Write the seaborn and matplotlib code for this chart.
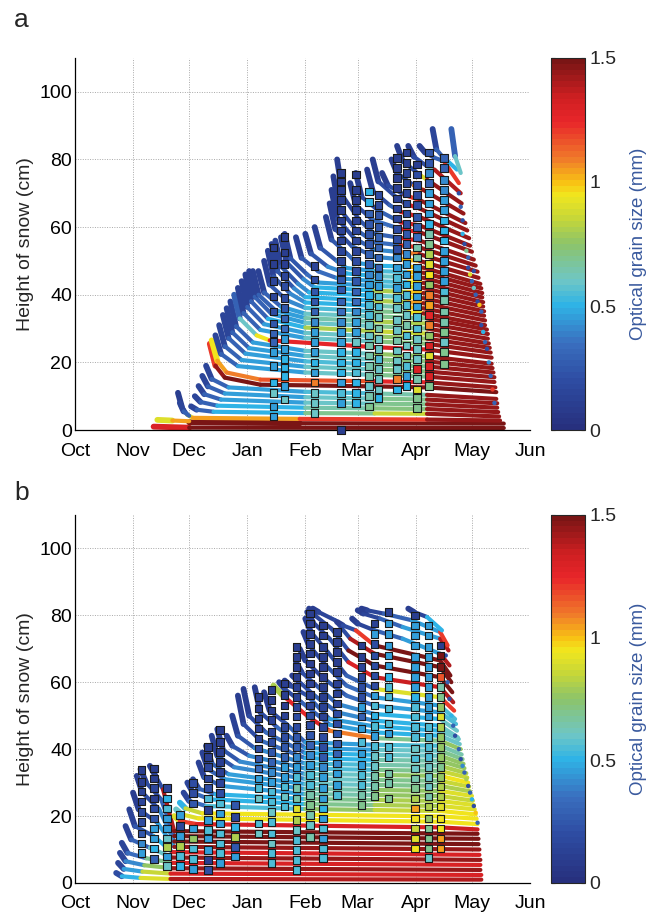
import numpy as np
import pandas as pd
import matplotlib
matplotlib.use("Agg")
import matplotlib.pyplot as plt
import matplotlib.cm as mcm
from matplotlib.collections import LineCollection
from matplotlib.colors import Normalize, LinearSegmentedColormap
import seaborn as sns

# x axis: days since 1 October
month_days = [0, 31, 61, 92, 123, 151, 182, 212, 243]
month_labels = ["Oct", "Nov", "Dec", "Jan", "Feb", "Mar", "Apr", "May", "Jun"]
grain_ticks = [0, 0.5, 1, 1.5]

# ---------------- panel a : modelled layers (day, height cm, grain size per segment)
a_layer_days = [
    [42, 61, 229], [61, 120, 229], [44, 52, 61],
    [55, 57, 60, 63, 120, 188, 227], [56, 58, 61],
    [62, 65, 74, 123, 160, 188, 226.5], [64, 67, 76, 123, 160, 188, 226],
    [66, 69, 78, 123, 160, 188, 225.5], [68, 71, 80, 123, 160, 188, 225.5],
    [70, 73, 82, 123, 160, 188, 225], [72, 75, 80, 99, 160, 188, 225],
    [73, 76, 81, 99, 160, 188, 224.5], [75, 78, 87, 123, 160, 188, 224],
    [77, 80, 89, 123, 160, 188, 224], [79, 82, 91, 123, 160, 188, 223.5],
    [81, 84, 93, 123, 160, 188, 223], [83, 86, 95, 123, 160, 188, 222.5],
    [85, 88, 97, 104, 160, 188, 222.5], [87, 90, 99, 123, 160, 188, 222],
    [89, 92, 101, 123, 160, 188, 221.5], [91, 94, 103, 123, 160, 188, 221],
    [93, 96, 105, 123, 160, 188, 220.5], [95, 98, 107, 123, 160, 188, 220.5],
    [98, 101, 110, 123, 160, 188, 220],
    [101, 104, 113, 123, 160, 178, 186, 219], [103, 106, 115, 123, 160, 178, 186, 219],
    [105, 108, 117, 123, 160, 178, 186, 218.5], [107, 110, 119, 125, 160, 178, 186, 218.5],
    [110, 113, 122, 128, 160, 178, 186, 218], [112, 115, 124, 130, 160, 178, 186, 218],
    [118, 121, 130, 140, 160, 178, 186, 217.5], [123, 126, 135, 145, 160, 178, 186, 217.5],
    [128, 131, 140, 145, 160, 178, 186, 217], [134, 137, 146, 150, 160, 178, 186, 216.5],
    [136, 139, 148, 160, 174, 184, 215.5], [137, 140, 149, 160, 174, 184, 215],
    [138, 141, 150, 160, 174, 184, 214], [140, 143, 152, 160, 174, 184, 213],
    [147, 150, 159, 174, 184, 212], [150, 153, 162, 174, 184, 211],
    [156, 159, 168, 174, 184, 210.5], [159, 162, 171, 176, 184, 209.5],
    [164, 167, 176, 184, 208.5], [169, 172, 181, 186, 207.5],
    [172, 175, 184, 188, 206.5], [178, 181, 188, 192, 206],
    [184, 187, 192, 197, 205], [191, 193, 196, 204], [201, 203, 206],
]
a_layer_cm = [
    [1.0, 0.7, 0.6], [2.3, 2.0, 1.9], [3.0, 2.8, 2.6],
    [11, 7, 4.5, 3.6, 3.3, 3.1, 2.8], [8, 5.5, 4.2],
    [7, 6.0, 5.4, 5.0, 4.9, 4.8, 4.0], [10, 8.3, 7.2, 6.6, 6.4, 6.2, 5.3],
    [13, 10.6, 9.0, 8.1, 7.8, 7.6, 6.6], [16, 12.9, 10.8, 9.7, 9.3, 9.0, 7.9],
    [19, 15.1, 12.6, 11.3, 10.8, 10.4, 9.2], [25.5, 19, 15.5, 13.4, 12.9, 12.6, 11.2],
    [26.5, 20.5, 17, 14.9, 14.4, 14.1, 12.6], [28, 22.5, 18.9, 17.0, 16.3, 15.8, 14.2],
    [31, 24.8, 20.7, 18.7, 17.9, 17.3, 15.6], [34, 27.2, 22.6, 20.3, 19.4, 18.8, 17.0],
    [36, 28.9, 24.2, 21.9, 20.9, 20.3, 18.3], [38, 30.7, 25.9, 23.4, 22.5, 21.8, 19.6],
    [40, 33, 28, 26.5, 24.5, 23.8, 21.4], [42, 34.6, 29.6, 27.2, 26.2, 25.5, 22.9],
    [44, 36.4, 31.3, 28.7, 27.7, 27, 24.3], [46, 38.1, 32.9, 30.3, 29.2, 28.5, 25.6],
    [47, 39.4, 34.3, 31.7, 30.7, 30, 27], [47, 40, 35.4, 33.1, 32.1, 31.5, 28.4],
    [47, 40.7, 36.5, 34.4, 33.6, 33, 29.7],
    [50, 43, 38.4, 36.1, 35.1, 34.8, 34.5, 31], [53, 45.4, 40.3, 37.7, 36.7, 36.3, 36, 32.4],
    [55, 47.1, 41.9, 39.3, 38.2, 37.8, 37.5, 33.8], [56, 48.4, 43.3, 40.7, 39.7, 39.3, 39, 35.1],
    [57, 49.6, 44.6, 42.2, 41.2, 40.8, 40.5, 36.5], [58, 50.8, 46, 43.6, 42.6, 42.3, 42, 37.8],
    [57, 50.9, 46.9, 44.9, 44, 43.7, 43.5, 39.2], [58, 52.2, 48.3, 46.3, 45.5, 45.2, 45, 40.5],
    [60, 53.9, 49.9, 47.9, 47, 46.7, 46.5, 41.9], [63, 56.3, 51.8, 49.5, 48.6, 48.3, 48, 43.2],
    [67, 59.4, 54.3, 51.2, 50.5, 50, 45], [71, 62.5, 56.8, 53.3, 52.6, 52, 46.8],
    [75, 65.6, 59.3, 55.5, 54.6, 54, 48.6], [80, 69.2, 62, 58, 56.8, 56, 50.4],
    [73, 66.5, 62.1, 59.4, 58.5, 52.7], [76, 69, 64.9, 61.4, 60.5, 54.5],
    [77, 70.7, 66.5, 64.5, 63, 56.7], [80, 73.5, 69.1, 67, 65.5, 59],
    [76, 72.4, 69.5, 68, 61.2], [80, 76, 72.3, 71, 64],
    [84, 79.5, 75.5, 74, 67], [84, 80.8, 78, 77, 70],
    [84, 82, 80.5, 79.5, 73], [89, 83, 81, 77], [89, 81, 76],
]
a_layer_grain = [
    [1.3, 1.5], [1.5, 1.5], [0.9, 1.05],
    [0.1, 0.2, 0.9, 1.05, 1.2, 1.45], [0.15, 0.3],
    [0.15, 0.3, 0.5, 0.7, 0.85, 1.45], [0.15, 0.3, 0.5, 0.65, 0.72, 1.45],
    [0.15, 0.3, 0.45, 0.6, 0.7, 1.45], [0.15, 0.3, 0.45, 0.6, 0.7, 1.45],
    [0.15, 0.3, 0.45, 0.55, 0.65, 1.45], [1.2, 1.45, 1.5, 1.5, 1.5, 1.5],
    [0.95, 1.05, 1.1, 1.15, 1.25, 1.45], [0.15, 0.3, 0.45, 0.6, 0.7, 1.45],
    [0.15, 0.3, 0.45, 0.6, 0.72, 1.45], [0.15, 0.3, 0.45, 0.55, 0.7, 1.45],
    [0.15, 0.3, 0.45, 0.6, 0.72, 1.45], [0.15, 0.3, 0.45, 0.6, 0.75, 1.45],
    [0.3, 0.6, 0.95, 1.25, 1.3, 1.45], [0.12, 0.3, 0.45, 0.6, 0.72, 1.45],
    [0.12, 0.3, 0.45, 0.6, 0.75, 1.45], [0.12, 0.3, 0.5, 0.8, 0.85, 1.45],
    [0.12, 0.3, 0.45, 0.6, 0.7, 1.45], [0.12, 0.3, 0.45, 0.65, 0.8, 1.45],
    [0.12, 0.3, 0.45, 0.6, 0.7, 1.45],
    [0.12, 0.25, 0.4, 0.55, 0.7, 0.95, 1.45], [0.12, 0.25, 0.4, 0.5, 0.65, 1.0, 1.45],
    [0.12, 0.25, 0.4, 0.5, 0.8, 1.05, 1.45], [0.12, 0.25, 0.4, 0.5, 0.6, 0.95, 1.45],
    [0.12, 0.25, 0.4, 0.5, 0.8, 1.0, 1.45], [0.12, 0.25, 0.35, 0.45, 0.55, 0.9, 1.45],
    [0.12, 0.25, 0.35, 0.45, 0.55, 0.95, 1.45], [0.12, 0.25, 0.4, 0.5, 0.6, 1.0, 1.45],
    [0.12, 0.25, 0.4, 0.45, 0.55, 1.0, 1.45], [0.12, 0.25, 0.35, 0.45, 0.5, 1.0, 1.45],
    [0.1, 0.2, 0.3, 0.4, 1.0, 1.45], [0.1, 0.2, 0.3, 0.4, 1.1, 1.45],
    [0.1, 0.2, 0.3, 0.35, 1.2, 1.45], [0.1, 0.15, 0.25, 0.3, 1.25, 1.45],
    [0.1, 0.2, 0.35, 1.25, 1.45], [0.1, 0.2, 0.3, 1.3, 1.45],
    [0.1, 0.2, 0.3, 1.3, 1.45], [0.1, 0.2, 0.3, 1.3, 1.45],
    [0.1, 0.2, 1.2, 1.45], [0.1, 0.2, 1.1, 1.45],
    [0.1, 0.2, 0.9, 1.45], [0.1, 0.2, 0.6, 1.4],
    [0.1, 0.15, 0.3, 1.2], [0.15, 0.3, 0.5], [0.3, 0.6],
]
# fresh snow grains scattered along the melt front
a_dot_days = [205, 206, 207, 207, 208, 209, 210, 210, 211, 212, 213, 213,
              214, 215, 216, 217, 217, 218, 219, 220, 221, 222, 223, 224]
a_dot_cm = [70, 66, 62, 58, 55, 53, 51, 48, 46, 44, 47, 42,
            40, 38, 37, 35, 31, 29, 26, 24, 20, 16, 12, 8]
a_dot_grain = [0.2, 0.3, 0.2, 0.5, 0.2, 0.7, 0.3, 0.2, 0.9, 0.3, 0.2, 0.6,
               0.3, 0.2, 1.0, 0.3, 0.2, 0.5, 0.3, 0.2, 0.4, 0.3, 1.2, 0.3]

# panel a : measured profiles (squares)
a_obs_day = [106, 112, 128, 142, 150, 157, 162, 172, 177, 182.5, 189, 197]
a_obs_cm = [
    [54, 49, 44, 39.5, 35, 31.5, 28.5, 26, 23, 19, 14, 11, 7, 4],
    [57, 52.5, 49, 45.5, 42.5, 39, 36, 33, 30, 27, 24, 21, 18.5, 16, 13, 9],
    [48.5, 44.5, 41, 38, 35, 32, 29, 26, 23, 20, 17, 14, 11, 8, 5],
    [76, 73.5, 71, 68, 65, 62, 59, 56, 53, 50, 47, 44.5, 41.5, 38, 35, 32, 29, 26, 23, 20, 17, 14, 11, 8, 0],
    [75.5, 71, 68, 65, 62, 59, 56, 53, 50, 47, 44, 41, 38, 35, 32, 29, 26, 23, 20, 17, 14, 11, 8],
    [70.5, 67.5, 64, 61, 58, 55, 52, 49, 46, 43, 40, 37, 34, 31, 28, 25, 22, 19, 16, 13, 10, 7],
    [69.5, 66.5, 63.5, 60, 57, 54, 51, 48, 45.5, 42.5, 39.5, 36.5, 33.5, 30, 27, 24, 21, 18, 15, 12, 9.5],
    [80.5, 77.5, 74.5, 71.5, 68.5, 65.5, 62.5, 59.5, 56.5, 53.5, 51, 48, 45, 42, 39, 36, 32.5, 29.5, 26.5, 23.5, 20.5, 18, 15, 12],
    [82, 79, 76, 73, 70, 67, 64, 61, 58, 55, 52, 49, 46, 43, 40, 37, 34, 31, 28, 25, 22, 19, 16, 13],
    [78.5, 75.5, 72.5, 69.5, 66.5, 63, 60, 57, 54, 51, 48, 45.5, 42.5, 39.5, 36.5, 33.5, 30, 27, 24, 21, 18, 15, 12, 9.5, 6.5],
    [82, 79, 76, 73, 70, 67, 64, 61, 58, 55, 52, 49, 46, 43, 40, 37, 34, 31, 28, 25, 22, 19, 16, 13],
    [80.5, 77.5, 74, 71, 68, 65, 62, 59, 56, 53, 50, 47, 44, 41, 38.5, 35, 32, 29, 26, 23, 19.5],
]
a_obs_grain = [
    [0.1, 0.1, 0.15, 0.15, 0.2, 0.25, 0.3, 0.3, 0.45, 0.45, 0.5, 0.6, 0.45, 0.45],
    [0.1, 0.1, 0.1, 0.15, 0.2, 0.2, 0.25, 0.3, 0.35, 0.45, 0.45, 0.5, 0.5, 0.5, 0.45, 0.6],
    [0.15, 0.2, 0.25, 0.25, 0.3, 0.4, 0.45, 0.45, 0.45, 0.5, 0.45, 1.1, 0.6, 0.6, 0.6],
    [0.1, 0.1, 0.1, 0.1, 0.1, 0.1, 0.12, 0.12, 0.15, 0.15, 0.2, 0.25, 0.25, 0.3, 0.35,
     0.4, 0.45, 0.45, 0.5, 0.5, 0.5, 0.45, 0.55, 0.45, 0.1],
    [0.1, 0.1, 0.1, 0.12, 0.12, 0.15, 0.15, 0.15, 0.2, 0.2, 0.25, 0.3, 0.35, 0.4, 0.45,
     0.45, 0.6, 0.5, 0.5, 0.55, 0.5, 0.5, 0.5],
    [0.5, 0.5, 0.3, 0.25, 0.25, 0.25, 0.3, 0.3, 0.4, 0.45, 0.5, 0.55, 0.55, 0.6, 0.6,
     0.65, 0.65, 0.65, 0.65, 0.6, 0.65, 0.7],
    [0.2, 0.2, 0.25, 0.25, 0.3, 0.3, 0.3, 0.3, 0.4, 0.45, 0.55, 0.55, 0.6, 0.65, 0.6,
     0.6, 0.55, 0.6, 0.6, 0.6, 0.5],
    [0.1, 0.1, 0.1, 0.1, 0.12, 0.15, 0.15, 0.2, 0.2, 0.2, 0.4, 0.45, 0.55, 0.45, 0.55,
     0.6, 0.6, 0.6, 0.65, 0.6, 0.6, 0.6, 1.1, 0.5],
    [0.1, 0.1, 0.12, 0.15, 0.15, 0.2, 0.2, 0.2, 0.25, 0.3, 0.4, 0.45, 0.45, 0.5, 0.55,
     0.55, 0.6, 0.65, 0.55, 0.6, 0.6, 0.55, 0.45, 0.5],
    [0.1, 0.2, 0.2, 0.2, 0.2, 0.25, 0.3, 0.35, 0.65, 0.65, 0.45, 0.45, 0.45, 0.45, 0.45,
     0.55, 0.55, 0.6, 0.6, 0.6, 1.3, 0.65, 0.9, 0.7, 0.7],
    [0.25, 0.25, 0.4, 0.3, 0.45, 0.45, 0.45, 0.5, 0.65, 0.7, 0.8, 0.9, 0.95, 0.75, 1.1,
     1.05, 1.25, 1.1, 0.75, 1.3, 0.9, 1.3, 1.3, 0.7],
    [0.3, 0.3, 0.4, 0.4, 0.45, 0.45, 0.5, 0.5, 0.5, 0.45, 0.45, 0.45, 0.45, 0.55, 0.65,
     0.65, 0.65, 0.7, 0.6, 0.7, 0.7],
]

# ---------------- panel b : modelled layers
b_layer_days = [
    [22, 25, 35, 51, 217], [23, 26, 36, 51, 217], [24, 27, 37, 52, 216.5],
    [25, 28, 38, 52, 216.5], [27, 30, 40, 52, 216.5], [29, 32, 42, 52, 216],
    [31, 34, 44, 53, 216], [33, 36, 45, 53, 215.5], [35, 38, 46, 53, 215.5],
    [40, 43, 47, 53, 215],
    [53, 56, 65, 195, 215], [54, 57, 66, 195, 215], [56, 59, 68, 195, 214.5],
    [58, 61, 70, 123, 160, 195, 214], [60, 63, 72, 123, 160, 195, 213.5],
    [63, 66, 75, 123, 160, 195, 213], [66, 69, 78, 123, 160, 195, 212.5],
    [68, 71, 80, 123, 160, 195, 212], [70, 73, 82, 123, 160, 195, 211],
    [73, 76, 85, 123, 160, 195, 210.5], [76, 79, 88, 123, 160, 195, 210],
    [81, 84, 93, 123, 160, 195, 209.5], [84, 87, 96, 123, 160, 195, 209],
    [87, 90, 99, 123, 160, 195, 208], [90, 93, 102, 123, 160, 195, 207.5],
    [96, 99, 108, 123, 160, 195, 207], [101, 104, 113, 123, 160, 195, 206.5],
    [106, 111, 125, 136, 160, 195, 206], [109, 112, 121, 136, 160, 195, 205.5],
    [112, 115, 124, 136, 160, 195, 205],
    [116, 119, 128, 140, 160, 195, 204.5], [118, 121, 130, 140, 160, 195, 204],
    [120, 123, 132, 145, 160, 195, 203.5], [122, 125, 134, 145, 160, 195, 203],
    [123, 126, 135, 145, 160, 195, 202.5], [124, 127, 136, 146, 160, 195, 202],
    [125, 128, 137, 146, 160, 195, 201.5], [127, 130, 139, 147, 160, 195, 201],
    [140, 143, 150, 160, 195, 200.5],
    [148, 151, 160, 175, 195, 200], [151, 154, 163, 175, 195, 199.5],
    [153, 156, 165, 180, 195, 199], [178, 181, 188, 196],
]
b_layer_cm = [
    [3, 2, 1.5, 1.2, 1.0], [6, 4.2, 3.4, 2.8, 2.4], [9, 6.5, 5.3, 4.4, 3.9],
    [12, 9, 7.4, 6.0, 5.4], [17, 13, 10.5, 7.6, 6.9], [22, 17, 14, 9.2, 8.4],
    [27, 22, 18, 10.8, 10], [32, 27, 22, 12.4, 11.6], [34, 30, 25, 14.0, 13.2],
    [35, 32, 28, 15.5, 14.7],
    [20, 18.5, 17.6, 16.6, 16.0], [22, 20.5, 19.3, 18.3, 17.6], [24, 22.3, 20.8, 19.9, 19.2],
    [27, 24.5, 23, 22.1, 21.8, 21.5, 20.5], [30, 27, 25, 23.6, 23.3, 23, 22],
    [31, 28.2, 26.5, 25.1, 24.8, 24.5, 23.3], [36, 31.6, 29, 26.6, 26.3, 26, 24.6],
    [39, 34, 31, 28.1, 27.8, 27.5, 26], [41, 35.7, 32.5, 29.6, 29.3, 29, 27.4],
    [44, 38, 34.6, 31.1, 30.8, 30.5, 28.8], [46, 39.8, 36.3, 32.6, 32.3, 32, 30],
    [44, 41, 38, 34.2, 33.8, 33.5, 31.5], [50, 44, 40.3, 35.7, 35.3, 35, 32.8],
    [56, 47.5, 42.6, 37.3, 36.8, 36.5, 34.3], [58, 50, 45, 38.8, 38.3, 38, 35.6],
    [58.5, 51, 46.5, 40.3, 39.8, 39.5, 37], [57, 51.5, 47.5, 42, 41.3, 41, 38.4],
    [59, 56, 49.5, 45.5, 43.3, 42.5, 40], [60, 58, 54, 47.3, 45, 44, 41.5],
    [60.5, 59, 56, 49, 46.8, 45.5, 43],
    [62, 60.5, 56, 51, 48.5, 47, 43.5], [66, 63, 58.5, 53.5, 50.5, 49, 45.5],
    [70, 66.5, 61.5, 56, 53, 51, 47.5], [75, 71, 65, 59, 55.5, 53, 49],
    [79, 75, 69, 62, 58, 55.5, 51.5], [81, 78, 73, 66, 61.5, 58.5, 54],
    [82, 80, 76, 69.5, 65, 61.5, 57], [82, 81, 78.5, 73, 68.5, 64.5, 60],
    [78, 77, 75.5, 71, 66.5, 62],
    [79, 77.5, 75.5, 73, 68.5, 65], [81.5, 80.5, 79, 76.5, 73, 69.5],
    [82, 81.5, 80.5, 78.5, 75, 71], [82, 81, 79.5, 75.5],
]
b_layer_grain = [
    [0.2, 0.5, 0.9, 1.4], [0.15, 0.45, 0.85, 1.3], [0.15, 0.4, 0.75, 1.45],
    [0.15, 0.35, 0.7, 1.3], [0.12, 0.3, 0.6, 1.45], [0.12, 0.25, 0.5, 1.3],
    [0.1, 0.2, 0.45, 1.45], [0.1, 0.2, 0.4, 1.5], [0.1, 0.2, 0.3, 1.5],
    [0.1, 0.2, 1.4, 1.5],
    [0.9, 1.2, 1.3, 1.35], [0.6, 0.9, 0.95, 0.95], [0.5, 0.85, 0.95, 0.95],
    [0.15, 0.35, 0.55, 0.75, 0.85, 0.95], [0.15, 0.35, 0.5, 0.7, 0.8, 0.9],
    [0.15, 0.3, 0.5, 0.7, 0.8, 0.9], [0.12, 0.3, 0.45, 0.65, 0.75, 0.85],
    [0.12, 0.3, 0.45, 0.65, 0.75, 0.9], [0.12, 0.3, 0.45, 0.6, 0.7, 0.8],
    [0.12, 0.25, 0.4, 0.6, 0.7, 0.85], [0.12, 0.25, 0.4, 0.6, 0.75, 0.95],
    [0.12, 0.25, 0.4, 0.55, 0.7, 0.85], [0.12, 0.25, 0.4, 0.55, 0.65, 0.8],
    [0.1, 0.2, 0.35, 0.5, 0.65, 0.75], [0.1, 0.2, 0.35, 0.5, 0.6, 0.75],
    [0.1, 0.2, 0.35, 0.45, 0.6, 0.7], [0.1, 0.2, 0.3, 0.45, 0.55, 0.65],
    [0.8, 1.25, 1.3, 1.1, 0.7, 0.75], [0.1, 0.2, 0.3, 0.45, 0.5, 0.6],
    [0.1, 0.2, 0.3, 0.45, 0.5, 0.6],
    [0.1, 0.2, 0.3, 0.4, 0.5, 0.6], [0.1, 0.2, 0.3, 0.4, 0.5, 0.6],
    [0.1, 0.15, 0.25, 0.35, 0.45, 0.55], [0.1, 0.15, 0.25, 0.35, 0.45, 0.55],
    [0.1, 0.15, 0.2, 0.3, 0.9, 1.2], [0.1, 0.15, 0.2, 1.3, 1.35, 1.4],
    [0.1, 0.15, 0.2, 1.5, 1.5, 1.5], [0.1, 0.15, 0.2, 1.4, 1.5, 1.5],
    [0.1, 0.2, 1.2, 1.5, 1.5],
    [0.1, 0.15, 0.3, 0.45, 1.4], [0.1, 0.15, 0.3, 0.45, 1.4],
    [0.1, 0.15, 0.3, 0.45, 1.2], [0.1, 0.15, 0.5],
]
b_dot_days = [198, 199, 200, 201, 202, 203, 204, 205, 206, 207, 208, 209,
              210, 211, 212, 213, 214, 215]
b_dot_cm = [68, 60, 55, 50, 47, 44, 42, 40, 37, 35, 33, 31, 29, 27, 25, 23, 21, 18]
b_dot_grain = [0.2, 0.3, 0.2, 0.5, 0.3, 0.2, 0.6, 0.3, 0.2, 0.4, 0.3, 0.8,
               0.2, 0.3, 0.5, 0.2, 1.0, 0.3]

# panel b : measured profiles
b_obs_day = [35.6, 42.3, 49, 56, 63, 71, 77.5, 85.5, 98, 105, 112, 118.4, 125.5,
             132.6, 139.8, 153, 160, 167.4, 181.6, 188.7, 195.3]
b_obs_cm = [
    [33.7, 30.2, 27.3, 24.3, 21.3, 18.3, 14.8, 11.8, 8.9],
    [34.2, 31.2, 28.3, 25.3, 22.3, 19.3, 16.3, 13.3, 10.3, 7.1],
    [28.3, 25.3, 22.3, 19.3, 16.3, 13.3, 10.8, 7.9, 5],
    [20.3, 17, 14, 11, 8.1, 5.1],
    [29.8, 26.8, 23.8, 16.3, 13.3, 10.3, 7.1, 4.1],
    [40.7, 37.7, 34.7, 31.2, 28.3, 25.3, 21.8, 18.8, 15.8, 13.3, 9.9, 6.9, 3.9],
    [45.7, 42.2, 39.2, 36.2, 33.2, 29.8, 26.8, 23.8, 20.8, 17.8, 14.8, 11.8, 8.9, 5.9],
    [23.3, 19.8, 16.8, 13.8, 10.8, 7.9],
    [55.6, 52.1, 49.2, 46.2, 43.2, 40.2, 37.2, 34.2, 31.2, 28.3, 25.3, 17.8, 14.8],
    [57.6, 54.6, 51.6, 48.7, 45.2, 42.2, 39.2, 36.2, 33.2, 30.2, 27.3, 24.3, 21.3, 18.3,
     14.8, 11.8, 8.9, 5.9],
    [59.6, 56.1, 53.1, 50.1, 46.7, 43.7, 40.7, 37.7, 34.7, 31.7, 28.8, 25.8, 22.8],
    [70.5, 67.6, 64.6, 61.6, 58.6, 55.6, 52.6, 49.7, 46.7, 43.7, 40.7, 37.7, 34.7, 31.7,
     28.3, 25.3, 22.3, 18.8, 15.8, 12.8, 9.9, 6.9, 3.9],
    [80.5, 77.5, 74.5, 71.5, 68.6, 65.6, 62.6, 59.6, 56.1, 53.1, 50.1, 47.2, 44.2, 41.2,
     38.2, 35.2, 32.2, 29.3, 26.3, 23.3, 20.3, 17.3, 13.8],
    [77, 74, 70.5, 67.6, 64.6, 61.6, 58.6, 55.6, 52.6, 49.7, 46.7, 43.7, 40.7, 37.7,
     34.7, 31.7, 28.3, 25.3, 22.3, 19.3, 16.3, 13.3, 10.3, 7.4],
    [75, 72, 69, 66, 63, 59.6, 56.6, 53.6, 50.6, 47.7, 44.7, 41.7, 38.7, 35.7, 32.7, 29.3, 26.3],
    [71, 67.6, 64.6, 61.6, 58.6, 55.6, 52.6, 49.7, 46.2, 42.2, 38.7, 35.2, 32.2, 29.3, 26.3, 23.3],
    [77.5, 74.5, 71.5, 68, 65, 62, 59, 56, 53, 50, 47, 44, 41, 38, 35, 32, 29, 26],
    [81, 77.5, 74.5, 71, 68, 65, 61.6, 58.6, 55.7, 52.1, 47.7, 44.7, 40.7, 37.7, 32.7, 29.9, 25.3],
    [80, 77, 74, 71, 67.6, 64.6, 61.6, 58.6, 55.6, 52.6, 49.7, 46.7, 43.7, 40.2, 37.2,
     34.2, 31.2, 28.3, 25.3, 22.3, 19.3, 16.3, 13.3, 10.3],
    [77, 74, 70.5, 67.6, 64.6, 61.6, 58.6, 55.6, 52.6, 49.7, 46.7, 43.7, 40.7, 37.7,
     34.7, 31.7, 28.8, 25.8, 22.8, 19.3, 16.3, 13.3, 10.3, 7.4],
    [71, 68, 64.6, 61.6, 58.6, 55.6, 52.6, 49.7, 46.7, 43.7, 40.7, 37.7, 34.7, 31.7,
     28.8, 25.8, 22.8, 19.3, 16.3, 13.3, 10.3],
]
b_obs_grain = [
    [0.1, 0.1, 0.15, 0.15, 0.2, 0.2, 0.25, 0.4, 0.45],
    [0.1, 0.1, 0.15, 0.1, 0.2, 0.25, 0.45, 0.45, 0.5, 0.3],
    [0.15, 0.5, 0.55, 0.45, 0.45, 0.6, 0.8, 0.45, 0.6],
    [0.45, 0.15, 0.45, 0.8, 0.55, 0.5],
    [0.2, 0.2, 0.25, 0.45, 0.75, 0.55, 0.55, 0.45],
    [0.1, 0.1, 0.15, 0.15, 0.2, 0.55, 0.1, 0.45, 0.55, 0.45, 0.45, 0.1, 0.2],
    [0.1, 0.1, 0.1, 0.1, 0.1, 0.15, 0.2, 0.55, 0.45, 0.45, 0.55, 0.55, 0.55, 0.45],
    [0.25, 0.15, 0.5, 0.8, 0.25, 0.45],
    [0.1, 0.1, 0.1, 0.12, 0.15, 0.2, 0.25, 0.35, 0.45, 0.55, 0.6, 0.55, 0.6],
    [0.1, 0.1, 0.1, 0.12, 0.15, 0.2, 0.25, 0.3, 0.4, 0.45, 0.55, 0.55, 0.6, 0.55, 0.55,
     0.6, 0.55, 0.55],
    [0.1, 0.1, 0.1, 0.12, 0.15, 0.2, 0.25, 0.3, 0.45, 0.45, 0.55, 0.6, 0.55],
    [0.1, 0.1, 0.1, 0.1, 0.12, 0.12, 0.15, 0.2, 0.2, 0.25, 0.3, 0.4, 0.45, 0.55, 0.65,
     0.65, 0.9, 0.8, 0.6, 0.55, 0.55, 0.55, 0.55],
    [0.1, 0.1, 0.1, 0.1, 0.1, 0.1, 0.1, 0.12, 0.12, 0.15, 0.2, 0.2, 0.25, 0.3, 0.4,
     0.45, 0.55, 0.55, 0.65, 0.7, 0.65, 0.6, 0.65],
    [0.1, 0.1, 0.1, 0.1, 0.1, 0.1, 0.1, 0.1, 0.12, 0.12, 0.15, 0.2, 0.2, 0.25, 0.4,
     0.45, 0.45, 0.45, 0.5, 0.45, 0.55, 0.45, 0.55, 0.55],
    [0.1, 0.1, 0.1, 0.1, 0.1, 0.12, 0.12, 0.15, 0.2, 0.2, 0.25, 0.25, 0.3, 0.4, 0.45, 0.45, 0.55],
    [0.1, 0.1, 0.15, 0.15, 0.2, 0.2, 0.45, 0.3, 0.45, 0.55, 0.45, 0.45, 0.55, 0.55, 0.65, 0.7],
    [0.12, 0.45, 0.2, 0.2, 0.2, 0.2, 0.2, 0.45, 0.55, 0.5, 0.55, 0.45, 0.55, 0.6, 0.6,
     0.65, 0.65, 0.7],
    [0.12, 0.45, 0.45, 0.45, 0.45, 0.45, 0.5, 0.55, 0.55, 0.55, 0.55, 0.45, 0.55, 0.55,
     0.65, 0.65, 0.7],
    [0.1, 0.45, 0.45, 0.45, 0.45, 0.45, 0.45, 0.45, 0.5, 0.55, 0.55, 0.55, 0.55, 0.6,
     0.55, 0.6, 0.65, 0.7, 0.8, 1.05, 0.95, 0.85, 0.9, 0.95],
    [0.45, 0.45, 0.45, 0.45, 0.45, 0.45, 0.45, 0.45, 0.45, 0.45, 0.55, 0.55, 0.55, 0.55,
     0.6, 0.6, 0.6, 0.65, 0.8, 0.75, 0.7, 0.7, 0.7, 0.6],
    [0.1, 1.5, 1.5, 1.15, 0.65, 0.7, 0.75, 0.9, 0.8, 0.75, 0.75, 0.75, 0.7, 0.75, 0.8,
     0.8, 0.9, 0.95, 0.95, 1.05, 1.05],
]

sns.set_style("white")
plt.rcParams["font.family"] = ["Liberation Sans", "DejaVu Sans"]

# jet-like scale as printed in the figure (slightly muted), 64 steps
cmap = LinearSegmentedColormap.from_list("printed_jet", [
    (0.0, "#27307e"), (0.13, "#2e4da3"), (0.23, "#3a6fbf"), (0.333, "#2fb3e6"),
    (0.4, "#6ec6c6"), (0.5, "#8cc46a"), (0.567, "#c4d63a"), (0.633, "#f1e61e"),
    (0.667, "#f8c314"), (0.733, "#f07a2a"), (0.833, "#e8262a"), (0.9, "#cf1f22"),
    (1.0, "#7a1515")], N=64)
norm = Normalize(vmin=0, vmax=1.5)


def draw_panel(ax, cax, letter, letter_y, lay_d, lay_h, lay_g,
               obs_d, obs_h, obs_g, dot_d, dot_h, dot_g):
    segs, vals, widths = [], [], []
    for days, cm, grain in zip(lay_d, lay_h, lay_g):
        pts = list(zip(days, cm))
        for i, g in enumerate(grain):
            segs.append([pts[i], pts[i + 1]])
            vals.append(g)
            widths.append(4.2 if i == 0 else 3.0)
    lc = LineCollection(segs, cmap=cmap, norm=norm, linewidths=widths,
                        capstyle="round", zorder=2)
    lc.set_array(np.array(vals))
    ax.add_collection(lc)

    dots = pd.DataFrame({"day": dot_d, "cm": dot_h, "grain": dot_g})
    sns.scatterplot(data=dots, x="day", y="cm", hue="grain", palette=cmap,
                    hue_norm=norm, s=10, linewidth=0, legend=False, ax=ax, zorder=3)

    rows = [(d, h, g) for d, hs, gs in zip(obs_d, obs_h, obs_g) for h, g in zip(hs, gs)]
    obs = pd.DataFrame(rows, columns=["day", "cm", "grain"])
    sns.scatterplot(data=obs, x="day", y="cm", hue="grain", palette=cmap,
                    hue_norm=norm, marker="s", s=30, edgecolor="#1a1a1a",
                    linewidth=0.8, legend=False, ax=ax, zorder=4, clip_on=False)

    ax.set_xlim(0, 243)
    ax.set_ylim(0, 110)
    ax.set_xticks(month_days)
    ax.set_xticklabels(month_labels)
    ax.set_yticks([0, 20, 40, 60, 80, 100])
    ax.set_xlabel("")
    ax.set_ylabel("Height of snow (cm)", fontsize=14, labelpad=4)
    ax.grid(True, linestyle=(0, (1, 1.5)), color="#a8a8a8", linewidth=0.7)
    ax.set_axisbelow(True)
    for side in ["top", "right"]:
        ax.spines[side].set_visible(False)
    for side in ["left", "bottom"]:
        ax.spines[side].set_color("black")
        ax.spines[side].set_linewidth(0.9)
    ax.tick_params(direction="in", length=4, width=0.8, labelsize=14, pad=2,
                   colors="black")
    ax.tick_params(axis="x", pad=9)

    cb = fig.colorbar(mcm.ScalarMappable(norm=norm, cmap=cmap), cax=cax,
                      ticks=grain_ticks)
    cb.ax.set_yticklabels(["0", "0.5", "1", "1.5"])
    cb.outline.set_linewidth(0.8)
    cax.tick_params(direction="in", length=3, width=0.8, labelsize=14,
                    left=True, right=True, pad=3)
    cb.set_label("Optical grain size (mm)", fontsize=13.5, color="#3a5a9e",
                 labelpad=10)
    fig.text(0.021, letter_y, letter, fontsize=19, va="baseline", ha="left")


fig = plt.figure(figsize=(6.67, 9.13), dpi=100)
ax_a = fig.add_axes([0.1124, 0.529, 0.6822, 0.4075])
ax_b = fig.add_axes([0.1124, 0.0329, 0.6822, 0.4031])
cax_a = fig.add_axes([0.826, 0.529, 0.051, 0.4075])
cax_b = fig.add_axes([0.826, 0.0329, 0.051, 0.4031])

draw_panel(ax_a, cax_a, "a", 0.970, a_layer_days, a_layer_cm, a_layer_grain,
           a_obs_day, a_obs_cm, a_obs_grain, a_dot_days, a_dot_cm, a_dot_grain)
draw_panel(ax_b, cax_b, "b", 0.452, b_layer_days, b_layer_cm, b_layer_grain,
           b_obs_day, b_obs_cm, b_obs_grain, b_dot_days, b_dot_cm, b_dot_grain)

fig.savefig("out.png", dpi=100)
